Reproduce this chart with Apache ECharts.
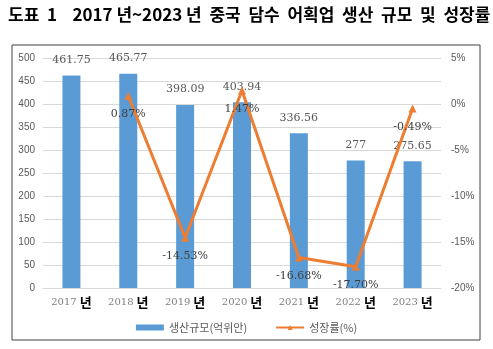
<!DOCTYPE html>
<html><head><meta charset="utf-8">
<script src="https://cdn.jsdelivr.net/npm/echarts@6/dist/echarts.min.js"></script>
<style>html,body{margin:0;padding:0;background:#fff}#c{width:493px;height:349px}</style>
</head><body><div id="c"></div>
<script>
const years = ['2017', '2018', '2019', '2020', '2021', '2022', '2023'];
const production = [461.75, 465.77, 398.09, 403.94, 336.56, 277, 275.65];
const growth = [null, 0.87, -14.53, 1.47, -16.68, -17.70, -0.49];
const leftTicks = [0, 500, 50];
const rightTicks = [-20, 5, 5];

const chart = echarts.init(document.getElementById('c'), null, {renderer: 'canvas'});
const grayText = '#595959';
chart.setOption({
  animation: false,
  title: {
    text: '도표  1    2017 년~2023 년  중국  담수  어획업  생산  규모  및  성장률',
    left: 3, top: 1,
    textStyle: {fontFamily: 'Noto Sans CJK KR', fontSize: 17, fontWeight: 'bold', color: '#000'}
  },
  graphic: [{
    type: 'rect', shape: {x: 12, y: 45, width: 468, height: 295},
    style: {fill: 'none', stroke: '#404040', lineWidth: 1}, z: -1
  }],
  grid: {left: 43, right: 52, top: 58, bottom: 61},
  legend: {
    bottom: 11, left: 'center', itemGap: 28,
    textStyle: {color: grayText, fontSize: 11, fontFamily: 'Noto Sans CJK KR'},
    data: [
      {name: '생산규모(억위안)', icon: 'rect', itemStyle: {color: '#5B9BD5'}},
      {name: '성장률(%)'}
    ],
    itemWidth: 28, itemHeight: 6
  },
  xAxis: {
    type: 'category', data: years,
    axisTick: {show: false},
    axisLine: {lineStyle: {color: '#d9d9d9'}},
    axisLabel: {
      interval: 0,
      margin: 8,
      formatter: v => '{y|' + v + '}{n| 년}',
      rich: {
        y: {color: '#7f7f7f', fontSize: 10, fontFamily: 'DejaVu Serif'},
        n: {color: '#000', fontSize: 13, fontWeight: 'bold', fontFamily: 'Noto Sans CJK KR'}
      }
    }
  },
  yAxis: [{
    type: 'value', min: leftTicks[0], max: leftTicks[1], interval: leftTicks[2],
    axisLine: {show: false}, axisTick: {show: false},
    splitLine: {lineStyle: {color: '#d9d9d9'}},
    axisLabel: {color: grayText, fontSize: 10, margin: 8, fontFamily: 'Liberation Sans'}
  }, {
    type: 'value', min: rightTicks[0], max: rightTicks[1], interval: rightTicks[2],
    axisLine: {show: false}, axisTick: {show: false}, splitLine: {show: false},
    axisLabel: {color: grayText, fontSize: 10, margin: 10, formatter: '{value}%', fontFamily: 'Liberation Sans'}
  }],
  series: [{
    name: '생산규모(억위안)', type: 'bar', data: production, barWidth: 18,
    itemStyle: {color: '#5B9BD5'},
    label: {show: true, position: 'top', distance: 10, color: grayText, fontSize: 11, fontFamily: 'DejaVu Serif',
      formatter: p => String(p.value)}
  }, {
    name: '성장률(%)', type: 'line', yAxisIndex: 1, data: growth,
    connectNulls: false,
    lineStyle: {color: '#ED7D31', width: 3},
    itemStyle: {color: '#ED7D31'},
    symbol: 'triangle', symbolSize: 8,
    label: {show: true, position: 'bottom', distance: 9, color: '#404040', fontSize: 11, fontFamily: 'DejaVu Serif',
      formatter: p => p.value.toFixed(2) + '%'}
  }]
});
</script></body></html>
